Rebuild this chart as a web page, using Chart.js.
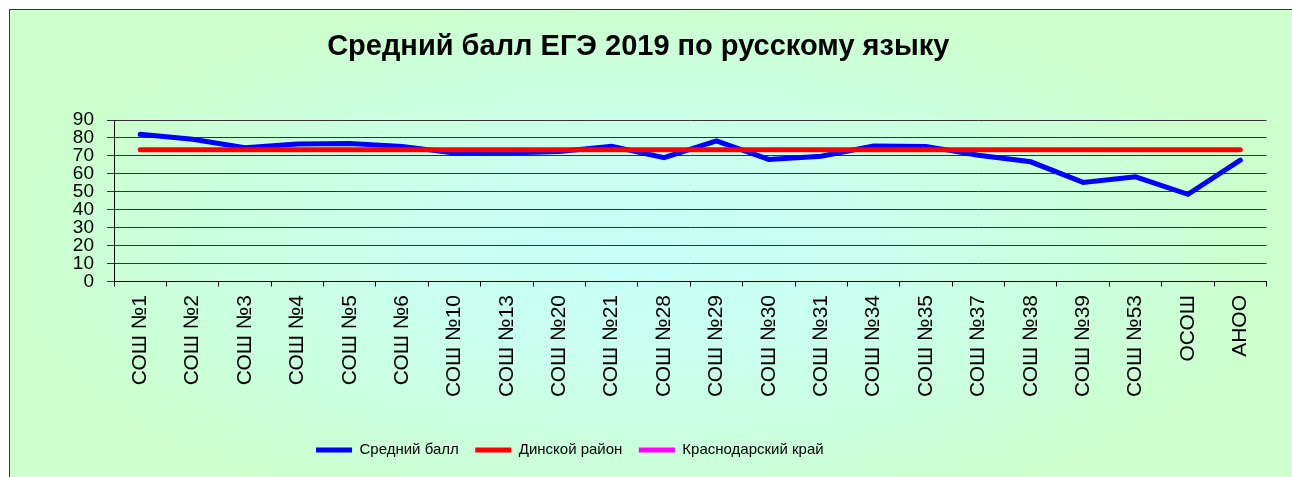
<!DOCTYPE html>
<html>
<head>
<meta charset="utf-8">
<script src="https://cdn.jsdelivr.net/npm/chart.js@4"></script>
<style>
  html, body { margin:0; padding:0; background:#fff; overflow:hidden; }
  #frame { position:absolute; left:9px; top:9px; width:1300px; height:480px; border-left:1px solid #333; border-top:1px solid #333; }
  canvas { display:block; }
</style>
</head>
<body>
<div id="frame"><canvas id="chart" width="1282" height="467"></canvas></div>
<script>
// schools (categories)
const schools = ['СОШ №1','СОШ №2','СОШ №3','СОШ №4','СОШ №5','СОШ №6','СОШ №10','СОШ №13','СОШ №20','СОШ №21','СОШ №28',
  'СОШ №29','СОШ №30','СОШ №31','СОШ №34','СОШ №35','СОШ №37','СОШ №38','СОШ №39','СОШ №53','ОСОШ','АНОО'];
// average score per school
const avgScore = [82, 79.3, 74.5, 76.6, 76.9, 75.3, 71.6, 71.6, 72.5, 75.4, 69, 78.4, 68, 69.8, 75.5, 75.3, 70.4, 66.7, 55.2, 58.3, 48.6, 67.6];
// district average (constant line)
const districtScore = schools.map(() => 73.4);
// region average: not drawn in the picture
const regionScore = schools.map(() => null);
const yTicks = [0,10,20,30,40,50,60,70,80,90];

// gradient background behind everything
const bgPlugin = {
  id: 'bg',
  beforeDraw(chart){
    const ctx = chart.ctx, w = chart.width, h = chart.height;
    ctx.save();
    ctx.translate(632, 250);
    ctx.scale(2.4, 1);
    const g = ctx.createRadialGradient(0, 0, 0, 0, 0, 270);
    g.addColorStop(0, '#c8fff8');
    g.addColorStop(0.35, '#c9fff0');
    g.addColorStop(1, '#ccffcc');
    ctx.fillStyle = g;
    ctx.fillRect(-632/2.4 - 10, -260, w/2.4 + 20, h + 20);
    ctx.restore();
  }
};

// legend sits left of centre in the original
const legendShift = {
  id: 'legendShift',
  afterLayout(chart){
    const l = chart.legend;
    const w = l.right - l.left;
    l.left = 289.5; l.right = 289.5 + w;
  }
};

new Chart(document.getElementById('chart'), {
  type: 'line',
  data: {
    labels: schools,
    datasets: [
      { label: 'Средний балл', data: avgScore, borderColor: '#0000ff', backgroundColor: '#0000ff', borderWidth: 5, order: 1 },
      { label: 'Динской район', data: districtScore, borderColor: '#ff0000', backgroundColor: '#ff0000', borderWidth: 5, order: 0 },
      { label: 'Краснодарский край', data: regionScore, borderColor: '#ff00ff', backgroundColor: '#ff00ff', borderWidth: 5, order: 2 }
    ]
  },
  options: {
    responsive: false,
    animation: false,
    elements: {
      point: { radius: 0, hoverRadius: 0 },
      line: { tension: 0, borderCapStyle: 'round', borderJoinStyle: 'miter' }
    },
    layout: { padding: { left: 0, right: 25.5, top: 0, bottom: 9.5 } },
    plugins: {
      title: {
        display: true,
        text: 'Средний балл ЕГЭ 2019 по русскому языку',
        color: '#000',
        font: { family: 'Arial, "Liberation Sans", sans-serif', size: 29, weight: 'bold' },
        padding: { top: 19.6, bottom: 55.6 }
      },
      legend: {
        position: 'bottom',
        align: 'start',
        labels: {
          color: '#000',
          font: { family: 'Arial, "Liberation Sans", sans-serif', size: 15 },
          usePointStyle: true,
          pointStyle: 'line',
          pointStyleWidth: 36,
          padding: 16.5,
          sort: (a, b) => a.datasetIndex - b.datasetIndex
        }
      },
      tooltip: { enabled: false }
    },
    scales: {
      x: {
        offset: true,
        grid: { offset: true, drawOnChartArea: false, drawTicks: true, tickLength: 5, color: '#000' },
        border: { color: '#000', width: 1 },
        ticks: {
          minRotation: 90, maxRotation: 90, autoSkip: false, padding: 8.5, color: '#000',
          font: { family: 'Arial, "Liberation Sans", sans-serif', size: 21 }
        },
        afterFit(s){ s.height = 144.5; }
      },
      y: {
        min: 0, max: 90,
        afterBuildTicks(s){ s.ticks = yTicks.map(v => ({ value: v })); },
        grid: { color: '#333', lineWidth: 1, tickLength: 7, drawTicks: true },
        border: { color: '#000', width: 1 },
        ticks: {
          autoSkip: false, padding: 13, color: '#000',
          font: { family: 'Arial, "Liberation Sans", sans-serif', size: 19 }
        },
        afterFit(s){ s.width = 104; }
      }
    }
  },
  plugins: [bgPlugin, legendShift]
});
</script>
</body>
</html>
